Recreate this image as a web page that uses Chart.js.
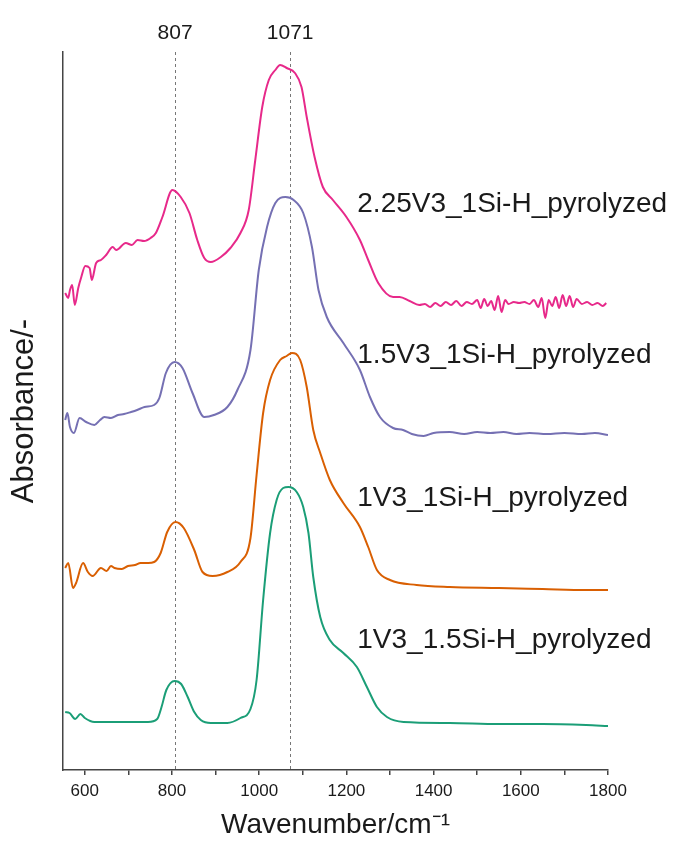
<!DOCTYPE html>
<html>
<head>
<meta charset="utf-8">
<script src="https://cdn.jsdelivr.net/npm/chart.js@4"></script>
<style>
  html, body { margin: 0; padding: 0; background: #fff; }
  #wrap { width: 676px; height: 843px; }
</style>
</head>
<body>
<div id="wrap"><canvas id="ftir" width="676" height="843"></canvas></div>
<script>
// FTIR spectra, stacked with offsets (arbitrary absorbance units)

const seriesNames = [
    '2.25V3_1Si-H_pyrolyzed',
    '1.5V3_1Si-H_pyrolyzed',
    '1V3_1Si-H_pyrolyzed',
    '1V3_1.5Si-H_pyrolyzed'
];

const peakPositions = [807, 1071];
const xTickValues = [600, 700, 800, 900, 1000, 1100, 1200, 1300, 1400, 1500, 1600, 1700, 1800];

// 2.25V3_1Si-H_pyrolyzed
const pinkX = [555, 562, 566, 571, 577, 585, 592, 601, 611, 616, 626, 637, 649, 664, 672, 694, 708, 721, 736, 751, 763, 778, 801,
    820, 840, 858, 874, 889, 912, 934, 957, 976, 991, 1007, 1022, 1037, 1048, 1063, 1082, 1097, 1109, 1127, 1146, 1169,
    1200, 1231, 1250, 1273, 1307, 1322, 1345, 1367, 1380, 1392, 1404, 1416, 1428, 1440, 1452, 1464, 1476, 1488, 1500,
    1508, 1516, 1524, 1532, 1540, 1548, 1556, 1564, 1572, 1584, 1596, 1608, 1620, 1630, 1640, 1648, 1656, 1664, 1672,
    1680, 1688, 1696, 1704, 1712, 1720, 1728, 1740, 1752, 1764, 1776, 1788, 1796];
const pinkY = [4.77, 4.72, 4.80, 4.85, 4.65, 4.82, 4.93, 5.04, 5.02, 4.90, 5.07, 5.10, 5.15, 5.23, 5.20, 5.27, 5.25, 5.30, 5.29, 5.32, 5.37, 5.53, 5.80,
    5.73, 5.57, 5.30, 5.12, 5.08, 5.13, 5.22, 5.37, 5.60, 6.10, 6.63, 6.90, 7.00, 7.05, 7.02, 6.97, 6.83, 6.53, 6.13, 5.83, 5.70,
    5.53, 5.30, 5.10, 4.87, 4.73, 4.73, 4.69, 4.65, 4.66, 4.63, 4.67, 4.64, 4.68, 4.65, 4.69, 4.64, 4.68, 4.66, 4.70,
    4.62, 4.71, 4.64, 4.69, 4.60, 4.74, 4.58, 4.70, 4.66, 4.68, 4.67, 4.68, 4.66, 4.70, 4.63, 4.72, 4.52, 4.70, 4.64,
    4.73, 4.62, 4.75, 4.64, 4.74, 4.63, 4.71, 4.66, 4.68, 4.65, 4.67, 4.64, 4.67];

// 1.5V3_1Si-H_pyrolyzed
const blueX = [555, 560, 566, 575, 588, 603, 622, 635, 645, 660, 676, 690, 706, 720, 737, 759, 771, 786, 806, 824, 847, 874,
    896, 927, 950, 980, 999, 1018, 1037, 1060, 1079, 1101, 1121, 1136, 1155, 1193, 1231, 1254, 1277, 1307, 1330, 1350,
    1377, 1400, 1437, 1470, 1500, 1530, 1560, 1590, 1620, 1660, 1700, 1740, 1770, 1800];
const blueY = [3.50, 3.57, 3.43, 3.37, 3.52, 3.48, 3.45, 3.50, 3.53, 3.52, 3.55, 3.56, 3.58, 3.60, 3.63, 3.65, 3.72, 3.97, 4.08, 4.02, 3.77, 3.53,
    3.55, 3.63, 3.80, 4.20, 5.00, 5.43, 5.67, 5.73, 5.70, 5.57, 5.23, 4.80, 4.53, 4.27, 4.00, 3.73, 3.53, 3.42, 3.40, 3.36,
    3.34, 3.37, 3.38, 3.36, 3.38, 3.37, 3.38, 3.36, 3.37, 3.36, 3.37, 3.36, 3.37, 3.35];

// 1V3_1Si-H_pyrolyzed
const orangeX = [555, 562, 573, 580, 596, 607, 618, 637, 650, 660, 668, 685, 699, 715, 728, 745, 759, 774, 789, 808, 827, 851,
    870, 893, 927, 957, 980, 994, 1009, 1025, 1048, 1063, 1075, 1094, 1109, 1124, 1140, 1162, 1193, 1231, 1250, 1270,
    1300, 1361, 1437, 1550, 1650, 1750, 1800];
const orangeY = [2.02, 2.07, 1.82, 1.87, 2.07, 1.98, 1.94, 2.02, 1.99, 2.04, 2.02, 2.01, 2.04, 2.05, 2.07, 2.07, 2.08, 2.17, 2.38, 2.48, 2.42, 2.20,
    1.98, 1.94, 1.98, 2.08, 2.32, 2.95, 3.57, 3.90, 4.10, 4.14, 4.17, 4.10, 3.83, 3.40, 3.17, 2.90, 2.67, 2.43, 2.23, 2.00,
    1.90, 1.85, 1.83, 1.82, 1.81, 1.80, 1.80];

// 1V3_1.5Si-H_pyrolyzed
const greenX = [555, 565, 578, 590, 600, 622, 661, 699, 745, 766, 776, 787, 806, 821, 836, 851, 866, 889, 927, 957, 980, 994,
    1009, 1025, 1040, 1055, 1067, 1086, 1101, 1113, 1124, 1140, 1162, 1193, 1224, 1247, 1270, 1293, 1331, 1437, 1550,
    1650, 1750, 1800];
const greenY = [0.58, 0.57, 0.51, 0.56, 0.52, 0.48, 0.48, 0.48, 0.48, 0.51, 0.63, 0.80, 0.89, 0.86, 0.73, 0.58, 0.50, 0.47, 0.47, 0.52, 0.61, 0.90,
    1.70, 2.37, 2.70, 2.82, 2.83, 2.78, 2.63, 2.37, 1.93, 1.53, 1.30, 1.17, 1.03, 0.83, 0.63, 0.53, 0.48, 0.47, 0.46,
    0.46, 0.45, 0.44];

// where each series name sits (x in cm-1, y in offset units)
const labelX = 1225;
const labelY = [5.66, 4.15, 2.72, 1.30];

const colors = ['#e7298a', '#7570b3', '#d95f02', '#1b9e77'];
const FONT = "'Liberation Sans', Arial, sans-serif";

function toPoints(xs, ys) {
    return xs.map((x, i) => ({ x: x, y: ys[i] }));
}

const seriesLabels = {
    id: 'seriesLabels',
    afterDatasetsDraw(chart) {
        const { ctx, scales } = chart;
        ctx.save();
        ctx.font = '28px ' + FONT;
        ctx.fillStyle = '#1a1a1a';
        ctx.textBaseline = 'middle';
        ctx.textAlign = 'left';
        seriesNames.forEach((name, i) => {
            ctx.fillText(name, scales.x.getPixelForValue(labelX), scales.y.getPixelForValue(labelY[i]));
        });
        ctx.restore();
    }
};

const allX = [pinkX, blueX, orangeX, greenX];
const allY = [pinkY, blueY, orangeY, greenY];

new Chart(document.getElementById('ftir'), {
    type: 'line',
    data: {
        datasets: seriesNames.map((name, i) => ({
            label: name,
            data: toPoints(allX[i], allY[i]),
            borderColor: colors[i],
            borderWidth: 2,
            pointRadius: 0,
            fill: false,
            cubicInterpolationMode: 'monotone'
        }))
    },
    options: {
        responsive: false,
        animation: false,
        devicePixelRatio: 1,
        layout: { padding: { left: 6, right: 68, top: 0, bottom: 1 } },
        plugins: {
            legend: { display: false },
            tooltip: { enabled: false }
        },
        scales: {
            x: {
                type: 'linear',
                position: 'bottom',
                min: 550,
                max: 1800,
                afterBuildTicks: (scale) => { scale.ticks = xTickValues.map(v => ({ value: v })); },
                afterFit: (scale) => { scale.height = 72; },
                ticks: {
                    padding: 6,
                    color: '#1a1a1a',
                    font: { family: FONT, size: 17 },
                    maxRotation: 0,
                    autoSkip: false,
                    callback: (v) => (v % 200 === 0 ? String(v) : '')
                },
                grid: { display: true, drawOnChartArea: false, drawTicks: true, tickLength: 5, color: '#444', lineWidth: 1.5 },
                border: { display: true, color: '#444', width: 1.5 },
                title: {
                    display: true,
                    text: 'Wavenumber/cm⁻¹',
                    color: '#1a1a1a',
                    font: { family: FONT, size: 28 },
                    padding: { top: 0, bottom: 0 }
                }
            },
            x2: {
                type: 'linear',
                position: 'top',
                min: 550,
                max: 1800,
                afterBuildTicks: (scale) => { scale.ticks = peakPositions.map(v => ({ value: v })); },
                afterFit: (scale) => { scale.height = 52; },
                ticks: {
                    padding: 6,
                    color: '#1a1a1a',
                    font: { family: FONT, size: 21 },
                    maxRotation: 0,
                    autoSkip: false,
                    callback: (v) => String(v)
                },
                grid: { display: true, drawOnChartArea: true, drawTicks: false, color: '#777', lineWidth: 1 },
                border: { display: false, dash: [3, 3] }
            },
            y: {
                min: 0,
                max: 7.18,
                afterFit: (scale) => { scale.width = 57; },
                ticks: { display: false },
                grid: { display: false },
                border: { display: true, color: '#444', width: 1.5 },
                title: {
                    display: true,
                    text: 'Absorbance/-',
                    color: '#1a1a1a',
                    font: { family: FONT, size: 31 },
                    padding: { top: 0, bottom: 0 }
                }
            }
        }
    },
    plugins: [seriesLabels]
});
</script>
</body>
</html>
